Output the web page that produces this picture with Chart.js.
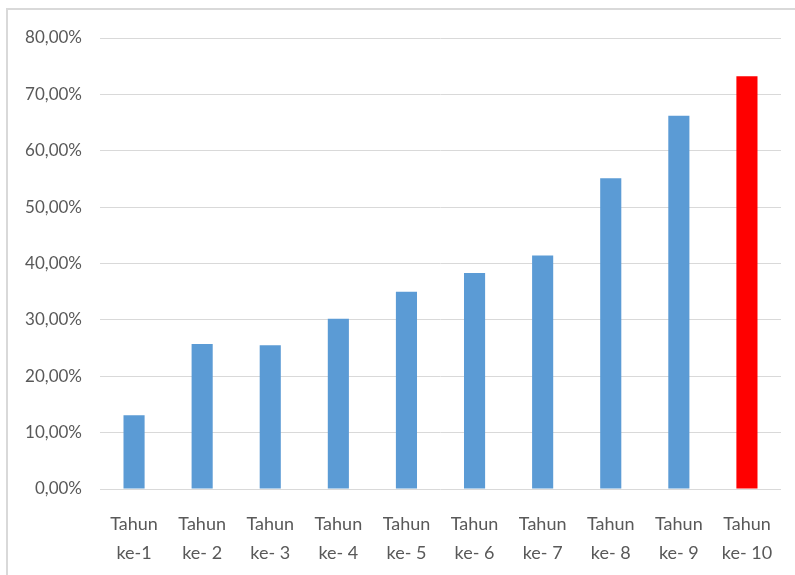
<!DOCTYPE html>
<html>
<head>
<meta charset="utf-8">
<script src="https://cdn.jsdelivr.net/npm/chart.js@4/dist/chart.umd.min.js"></script>
<style>
  html, body { margin: 0; padding: 0; background: #ffffff; }
  #wrap { position: relative; width: 795px; height: 575px; overflow: hidden; }
  #frame { position: absolute; left: 6px; top: 8px; width: 800px; height: 600px;
           border-top: 2px solid #d9d9d9; border-left: 2px solid #d9d9d9; box-sizing: border-box; }
  canvas { position: absolute; left: 0; top: 0; }
</style>
</head>
<body>
<div id="wrap">
  <div id="frame"></div>
  <canvas id="c" width="795" height="575"></canvas>
</div>
<script>
// Year labels (two lines each)
const yearLines = ["Tahun", "Tahun", "Tahun", "Tahun", "Tahun", "Tahun", "Tahun", "Tahun", "Tahun", "Tahun"];
const yearIndex = ["ke-1", "ke- 2", "ke- 3", "ke- 4", "ke- 5", "ke- 6", "ke- 7", "ke- 8", "ke- 9", "ke- 10"];
// Percentage per year
const values = [13.1, 25.7, 25.5, 30.2, 35.0, 38.3, 41.4, 55.1, 66.2, 73.2];
// Y axis range and step (percent)
const yMin = 0, yMax = 80, yStep = 10;

const labels = yearLines.map((t, i) => [t, yearIndex[i]]);
const colors = values.map((v, i) => i === values.length - 1 ? '#ff0000' : '#5b9bd5');

new Chart(document.getElementById('c'), {
  type: 'bar',
  data: {
    labels: labels,
    datasets: [{
      data: values,
      backgroundColor: colors,
      borderWidth: 0,
      categoryPercentage: 1.0,
      barPercentage: 0.31
    }]
  },
  options: {
    responsive: false,
    animation: false,
    layout: { padding: { left: 0, right: 14, top: 38, bottom: 0 } },
    plugins: { legend: { display: false }, tooltip: { enabled: false } },
    scales: {
      x: {
        grid: { display: false },
        border: { display: false },
        ticks: {
          color: '#595959',
          font: { family: 'Lato', size: 18, lineHeight: 1.65 },
          padding: 12,
          maxRotation: 0,
          autoSkip: false
        },
        afterFit: (s) => { s.height = 86; }
      },
      y: {
        min: yMin,
        max: yMax,
        grid: { color: '#d9d9d9', lineWidth: 1, drawTicks: false },
        border: { display: false },
        ticks: {
          stepSize: yStep,
          color: '#595959',
          font: { family: 'Lato', size: 17 },
          padding: 18,
          callback: (v) => v.toFixed(2).replace('.', ',') + '%'
        },
        afterFit: (s) => { s.width = 100; }
      }
    }
  }
});
</script>
</body>
</html>
